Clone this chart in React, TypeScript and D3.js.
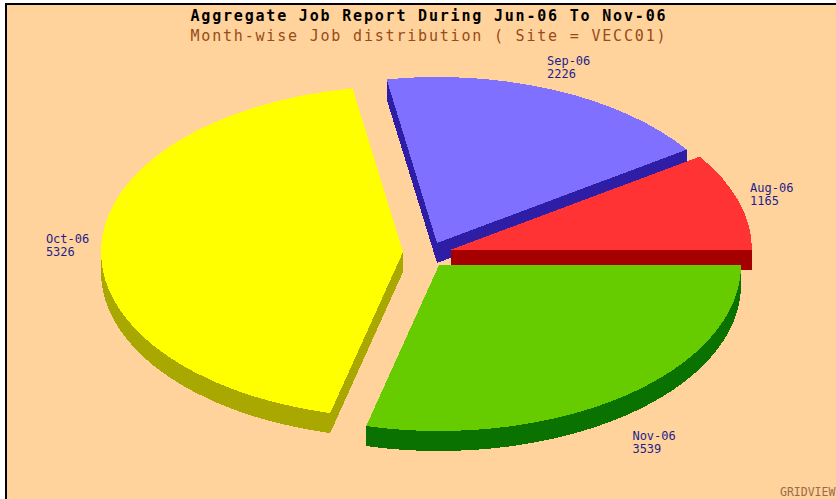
import React from 'react';
import * as d3 from 'd3';

// month-wise job counts, Site = VECC01
const months = ['Aug-06', 'Sep-06', 'Oct-06', 'Nov-06'];
const jobs = [1165, 2226, 5326, 3539];

const topColors = ['#ff3333', '#8070ff', '#ffff00', '#66cc00'];
const sideColors = ['#a40000', '#2e1ea6', '#a8a800', '#097200'];
// how far each slice is pulled out of the pie (x, y)
const explode = [[20, -2], [7, -9], [-27, 0], [9, 13]];

const W = 836, H = 499;
const cx = 430, cy = 252;
const rx = 302, ry = 166;
const depth = 20;
const charW = 7.22;

function slicePath(ax: number, ay: number, t0: number, t1: number) {
  const x0 = ax + rx * Math.cos(t0), y0 = ay - ry * Math.sin(t0);
  const x1 = ax + rx * Math.cos(t1), y1 = ay - ry * Math.sin(t1);
  const large = t1 - t0 > Math.PI ? 1 : 0;
  return `M${ax},${ay}L${x0},${y0}A${rx},${ry} 0 ${large} 0 ${x1},${y1}Z`;
}

export default function App() {
  const pie = d3.pie<number>().sort(null)
    .startAngle(Math.PI / 2).endAngle(Math.PI / 2 - 2 * Math.PI);
  const arcs = pie(jobs).map((a, i) => {
    const t0 = Math.PI / 2 - a.startAngle;
    const t1 = Math.PI / 2 - a.endAngle;
    const mid = (t0 + t1) / 2;
    const ax = cx + explode[i][0], ay = cy + explode[i][1];
    return { i, t0, t1, mid, ax, ay };
  });
  // back slices first
  const order = [...arcs].sort((a, b) => Math.sin(b.mid) - Math.sin(a.mid));
  const layers = d3.range(depth, 0, -1);

  return (
    <svg width={W} height={H} style={{ position: 'absolute', left: 0, top: 0 }}>
      <rect x={0} y={0} width={W} height={H} fill="#fff" />
      <rect x={6} y={4} width={W + 10} height={H + 10} fill="#ffd39b" stroke="#000" strokeWidth={2} />
      <text x={428} y={21} textAnchor="middle" textLength={475} lengthAdjust="spacing"
        fontFamily="DejaVu Sans Mono" fontWeight="bold" fontSize={15} fill="#000">
        Aggregate Job Report During Jun-06 To Nov-06
      </text>
      <text x={428} y={41} textAnchor="middle" textLength={475} lengthAdjust="spacing"
        fontFamily="DejaVu Sans Mono" fontSize={15} fill="#964b19">
        Month-wise Job distribution ( Site = VECC01)
      </text>

      {order.map(s => (
        <g key={months[s.i]} shapeRendering="crispEdges">
          {layers.map(k => (
            <path key={k} d={slicePath(s.ax, s.ay + k, s.t0, s.t1)} fill={sideColors[s.i]} />
          ))}
          <path d={slicePath(s.ax, s.ay, s.t0, s.t1)} fill={topColors[s.i]} />
        </g>
      ))}

      {arcs.map(s => {
        const c = Math.cos(s.mid), sn = Math.sin(s.mid);
        const w = Math.max(months[s.i].length, String(jobs[s.i]).length) * charW;
        const px = s.ax + (rx + 12) * c;
        const py = sn < 0
          ? s.ay - (ry + 20) * sn + depth
          : s.ay - (ry + 12) * sn;
        const x0 = c > 0.5 ? px : c < -0.5 ? px - w : px - w / 2 + c * w / 2;
        const midY = py - sn * 13;
        return (
          <text key={months[s.i]} x={x0} y={midY - 2}
            fontFamily="DejaVu Sans Mono" fontSize={12} fill="#1e1e8c">
            <tspan x={x0}>{months[s.i]}</tspan>
            <tspan x={x0} dy={13}>{jobs[s.i]}</tspan>
          </text>
        );
      })}

      <text x={780} y={496} fontFamily="DejaVu Sans Mono" fontSize={11.5} fill="#9a6a4a">
        GRIDVIEW
      </text>
    </svg>
  );
}
